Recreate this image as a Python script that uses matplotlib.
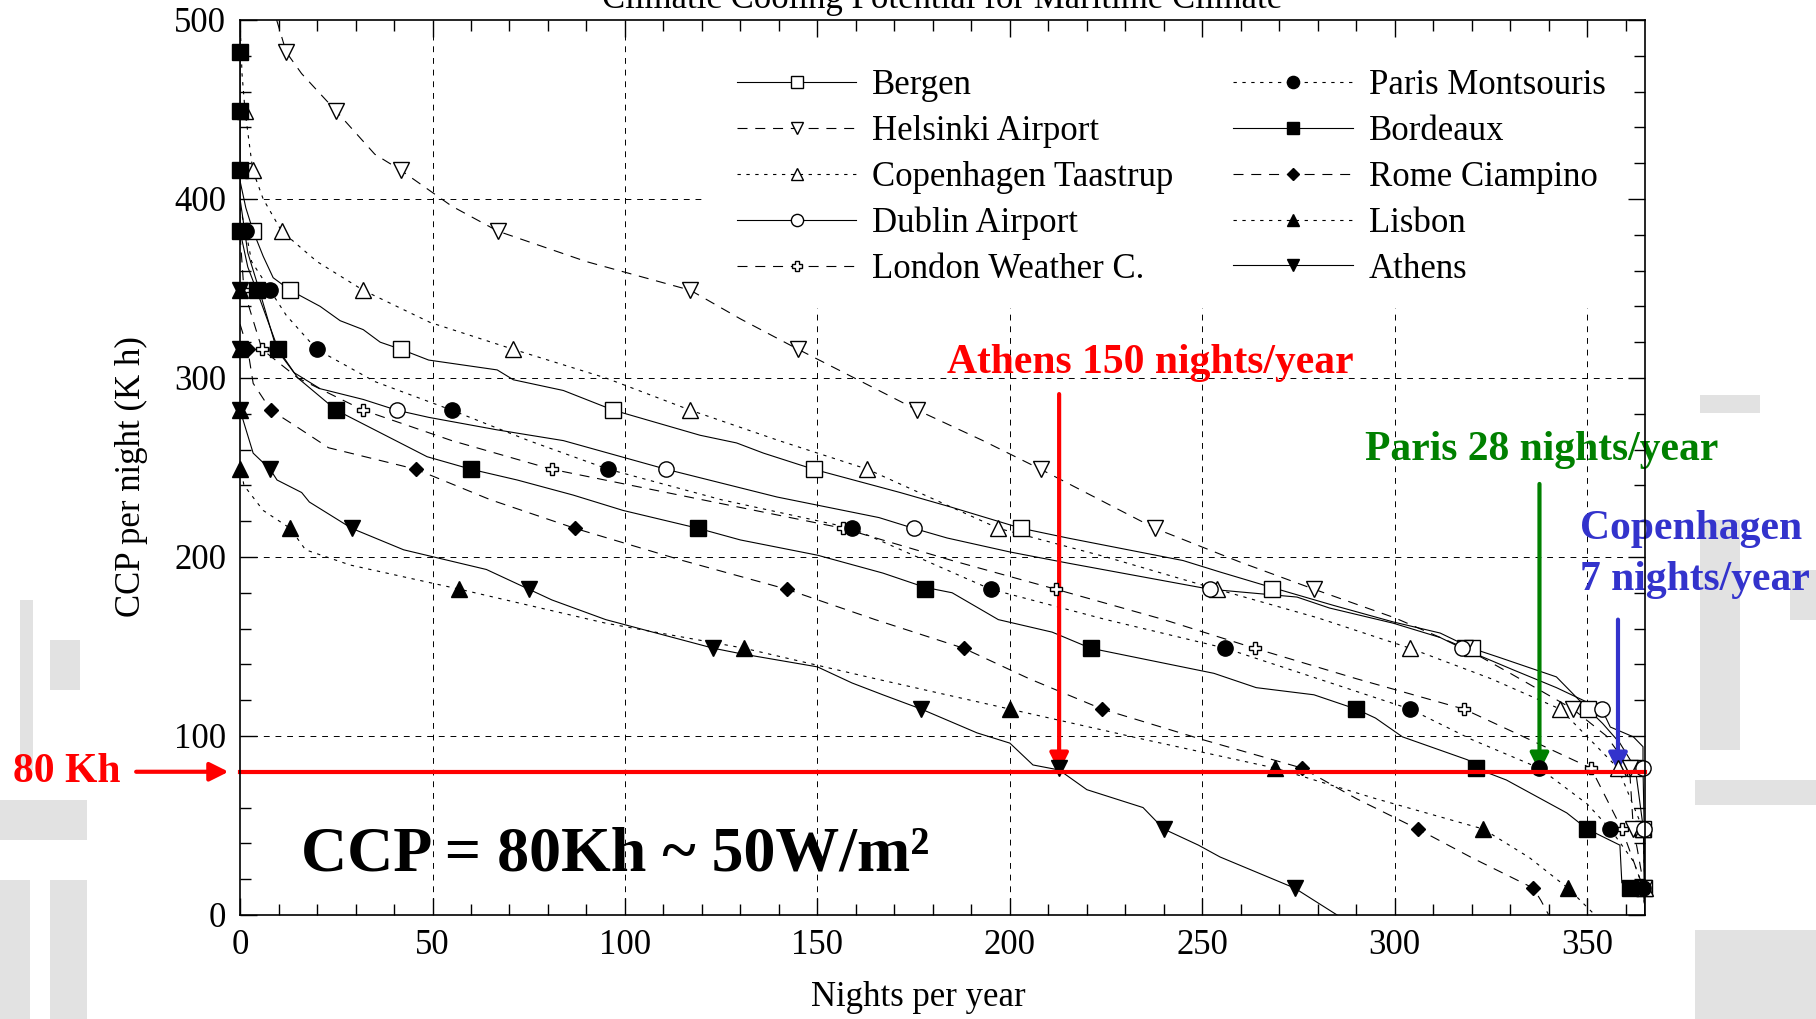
import matplotlib
matplotlib.use("Agg")
import matplotlib.pyplot as plt
from matplotlib.ticker import MultipleLocator
from matplotlib.patches import Rectangle

plt.rcParams['font.family'] = ['Liberation Serif', 'DejaVu Serif']

# marker levels (CCP, K h) where the plotting program put a symbol on each curve
levels = [482, 449, 416, 382, 349, 316, 282, 249, 216, 182, 149, 115, 82, 48, 15]

bergen_nights = [0, 1.5, 3.4, 6, 8.6, 13, 20.8, 26, 32, 36.4, 41.8, 49, 66.8, 71, 84, 97, 119.5, 129, 136,
                 149, 171.5, 184.5, 203, 215, 245, 254.6, 268, 284, 299.6, 311.8, 320, 327, 342, 350.2,
                 354, 358.5, 362.5, 364.6, 364.8, 365]
bergen_ccp = [410, 395, 382, 368, 356, 349, 340, 332, 327, 320, 316, 310, 304.5, 299, 293, 282, 268, 263.7, 258,
              249, 236, 228, 216, 210.6, 198, 191.6, 183, 173, 163.7, 157.5, 149, 144, 133, 115,
              107, 96, 82, 48, 15, 0]
bergen_marks = [None, None, None, 3.4, 13, 41.8, 97, 149, 203, 268, 320, 350.2, 362.5, 364.6, 364.8]

helsinki_nights = [9.5, 12, 16, 25, 35, 41.8, 55, 67, 90, 117, 130, 145, 176, 193, 208, 237.7, 260, 279,
                   300, 318.3, 330, 346.3, 355, 361, 362, 363, 364.8, 365]
helsinki_ccp = [500, 482, 470, 449, 425, 416, 396, 382, 365, 349, 333, 316, 282, 265, 249, 216, 197, 182,
                166, 149, 135, 115, 100, 82, 48, 37, 15, 0]
helsinki_marks = [12, 25, 41.8, 67, 117, 145, 176, 208, 237.7, 279, 318.3, 346.3, 361, 362, 364.8]

copenhagen_nights = [0, 0.5, 1.3, 3.3, 6, 10.8, 20, 32, 49.4, 71, 95, 117, 140, 163, 197, 225, 253.7, 280,
                     304, 325, 343, 358, 364.5, 365, 365]
copenhagen_ccp = [500, 470, 449, 416, 400, 382, 365, 349, 331, 316, 300, 282, 265, 249, 216, 200, 182, 166,
                  149, 132, 115, 82, 48, 15, 0]
copenhagen_marks = [None, 1.3, 3.3, 10.8, 32, 71, 117, 163, 197, 253.7, 304, 343, 358, 364.5, 365]

dublin_nights = [0, 2, 5, 9.5, 14, 20.8, 32, 40.7, 49, 66.8, 84, 110.7, 139.5, 166, 175, 183.7, 200, 215,
                 251.9, 274.6, 283, 299.6, 311.8, 317.5, 330.7, 342, 353.8, 356, 362, 364.5, 364.5, 364.8, 365]
dublin_ccp = [400, 370, 349, 316, 303, 294, 288, 282, 278, 271, 265, 249, 233.5, 222, 216, 210.6, 202.8, 196.6,
              182, 177.6, 171.5, 163, 155, 149, 137, 127, 115, 105, 99.5, 94, 82, 48, 0]
dublin_marks = [None, None, None, None, 5, 9.5, 40.7, 110.7, 175, 251.9, 317.5, 353.8, 364.5, 364.8, None]

london_nights = [0, 1, 5.7, 15, 32, 55, 81, 120, 156.7, 185, 211.9, 240, 263.6, 290, 318, 335, 351, 359,
                 364.6, 365]
london_ccp = [380, 349, 316, 300, 282, 265, 249, 232, 216, 198, 182, 165, 149, 132, 115, 98, 82, 48, 15, 0]
london_marks = [None, None, None, None, 1, 5.7, 32, 81, 156.7, 211.9, 263.6, 318, 351, 359, 364.6]

paris_nights = [0, 1.5, 3, 7.8, 12, 19.9, 35, 55, 75, 95.7, 125, 159, 195, 225, 256, 280, 304, 320, 337.6,
                350, 356, 362, 364.6, 365]
paris_ccp = [395, 382, 365, 349, 335, 316, 298, 282, 265, 249, 232, 216, 182, 165, 149, 132, 115, 98, 82,
             62, 48, 30, 15, 0]
paris_marks = [None, None, None, 1.5, 7.8, 19.9, 55, 95.7, 159, 195, 256, 304, 337.6, 356, 364.6]

bordeaux_nights = [0, 0, 2, 4.3, 9.9, 15, 25, 48.6, 60, 72, 86.5, 99.5, 119, 130, 150, 167, 178, 185, 197,
                   211, 221, 253, 264, 279, 290, 295, 302, 319, 321, 329, 344.7, 350, 358.5, 359, 361, 365,
                   365]
bordeaux_ccp = [500, 382, 362, 349, 316, 300, 282, 256, 249, 243, 234.6, 226, 216, 209.5, 201, 191, 183, 180,
                165, 158, 149, 135, 127, 123, 115, 110, 99.5, 86.6, 82, 75.4, 57, 48, 39, 18, 15, 10, 0]
bordeaux_marks = [0, 0, 0, 0, 4.3, 9.9, 25, 60, 119, 178, 221, 290, 321, 350, 361]

rome_nights = [0, 2, 3.4, 8, 14.8, 23, 45.7, 65, 87, 115, 142, 165, 188, 205, 224, 250, 276, 290, 306, 320,
               336, 338, 340]
rome_ccp = [330, 316, 297, 282, 272.6, 261, 249, 232, 216, 198, 182, 165, 149, 132, 115, 98, 82, 65, 48, 32,
            15, 8, 0]
rome_marks = [None, None, None, None, None, 2, 8, 45.7, 87, 142, 188, 224, 276, 306, 336]

lisbon_nights = [0, 1, 6, 13, 17, 28.6, 57, 95, 131, 165, 200, 235, 269, 295, 323, 335, 345, 352]
lisbon_ccp = [252, 240, 226, 216, 204, 195.5, 182, 163, 149, 132, 115, 98, 82, 65, 48, 32, 15, 0]
lisbon_marks = [None, None, None, None, 0, 0, 0, 0, 13, 57, 131, 200, 269, 323, 345]

athens_nights = [0, 3.4, 7.8, 9.6, 16, 18, 29, 42.5, 64, 75, 81, 95, 123, 130, 150, 159, 167, 177, 191.5,
                 200, 206, 212.8, 220, 234.6, 240, 249, 254.6, 274, 285]
athens_ccp = [282, 258, 249, 243, 236, 230.7, 216, 204, 193, 182, 176, 165, 149, 146, 138.6, 129.6, 123, 115,
              101.7, 96, 83.8, 81, 70, 60, 48, 39, 32.4, 15, 0]
athens_marks = [None, None, None, None, 0, 0, 0, 7.8, 29, 75, 123, 177, 212.8, 240, 274]

dashed = (0, (9, 7))
dotted = (0, (3, 5))

series = [
    ("Bergen", bergen_nights, bergen_ccp, bergen_marks, '-', 's', 'white', 11),
    ("Helsinki Airport", helsinki_nights, helsinki_ccp, helsinki_marks, dashed, 'v', 'white', 11),
    ("Copenhagen Taastrup", copenhagen_nights, copenhagen_ccp, copenhagen_marks, dotted, '^', 'white', 11),
    ("Dublin Airport", dublin_nights, dublin_ccp, dublin_marks, '-', 'o', 'white', 11),
    ("London Weather C.", london_nights, london_ccp, london_marks, dashed, 'P', 'white', 9),
    ("Paris Montsouris", paris_nights, paris_ccp, paris_marks, dotted, 'o', 'black', 11),
    ("Bordeaux", bordeaux_nights, bordeaux_ccp, bordeaux_marks, '-', 's', 'black', 11),
    ("Rome Ciampino", rome_nights, rome_ccp, rome_marks, dashed, 'D', 'black', 7.5),
    ("Lisbon", lisbon_nights, lisbon_ccp, lisbon_marks, dotted, '^', 'black', 11),
    ("Athens", athens_nights, athens_ccp, athens_marks, '-', 'v', 'black', 11),
]

fig = plt.figure(figsize=(18.16, 10.19), dpi=100)

# light grey scan blotches around the chart, on a background layer
bg = fig.add_axes([0, 0, 1, 1], zorder=-1)
bg.set_xlim(0, 1816)
bg.set_ylim(1019, 0)
bg.axis('off')
grey = '#e2e2e2'
for x0, y0, w, h in [(0, 880, 30, 139), (50, 880, 37, 139), (0, 800, 87, 40), (20, 600, 13, 170),
                     (50, 640, 30, 50), (1700, 520, 40, 230), (1790, 570, 26, 50), (1695, 780, 121, 25),
                     (1695, 930, 121, 89), (1700, 395, 60, 18)]:
    bg.add_patch(Rectangle((x0, y0), w, h, color=grey, lw=0))

ax = fig.add_axes([0.1322, 0.1021, 0.7736, 0.8783])

# grid, interrupted where the legend sits
grid_style = dict(color='black', lw=0.7, ls=(0, (6, 6)), zorder=1)
for gx in [50, 100]:
    ax.plot([gx, gx], [0, 500], **grid_style)
for gx in [150, 200, 250, 300, 350]:
    ax.plot([gx, gx], [0, 339], **grid_style)
for gy in [100, 200, 300]:
    ax.plot([0, 365], [gy, gy], **grid_style)
ax.plot([0, 120], [400, 400], **grid_style)

handles = []
for name, nights, ccp, marks, ls, mk, fc, ms in series:
    ax.plot(nights, ccp, color='black', lw=0.8, ls=ls, zorder=3)
    mx = [m for m in marks if m is not None]
    my = [lv for m, lv in zip(marks, levels) if m is not None]
    ax.plot(mx, my, ls='none', marker=mk, mfc=fc, mec='black', mew=1.0, ms=ms,
            clip_on=False, zorder=4)
    h, = ax.plot([], [], color='black', lw=0.8, ls=ls, marker=mk, mfc=fc, mec='black',
                 mew=1.0, ms=ms * 0.8, label=name)
    handles.append(h)

ax.legend(handles=handles, ncol=2, loc='upper left', bbox_to_anchor=(0.3535, 0.945),
          frameon=False, fontsize=25, handlelength=3.45, handletextpad=0.45,
          columnspacing=1.73, labelspacing=0.37, borderpad=0, borderaxespad=0, numpoints=1)

# 80 Kh threshold
ax.plot([0, 365], [80, 80], color='red', lw=3, zorder=5, clip_on=False)
arrow = dict(arrowstyle='-|>', lw=3, mutation_scale=28, shrinkA=0, shrinkB=0)
ax.annotate('', xy=(-3, 80), xytext=(-27, 80), annotation_clip=False,
            arrowprops=dict(arrow, color='red'))
ax.text(-31, 74.3, '80 Kh', color='red', fontsize=30, fontweight='bold',
        ha='right', va='baseline')

ax.annotate('', xy=(212.8, 80), xytext=(212.8, 291), arrowprops=dict(arrow, color='red'))
ax.text(236.6, 302.8, 'Athens 150 nights/year', color='red', fontsize=30, fontweight='bold',
        ha='center', va='baseline')

ax.annotate('', xy=(337.6, 80), xytext=(337.6, 240.8), arrowprops=dict(arrow, color='#008000'))
ax.text(338.2, 254.3, 'Paris 28 nights/year', color='#008000', fontsize=30, fontweight='bold',
        ha='center', va='baseline', clip_on=False)

ax.annotate('', xy=(358, 80), xytext=(358, 165), arrowprops=dict(arrow, color='#3333CC'))
ax.text(377, 210.3, 'Copenhagen', color='#3333CC', fontsize=30, fontweight='bold',
        ha='center', va='baseline', clip_on=False)
ax.text(378, 181.8, '7 nights/year', color='#3333CC', fontsize=30, fontweight='bold',
        ha='center', va='baseline', clip_on=False)

ax.text(15.8, 24.6, 'CCP = 80Kh ~ 50W/m²', fontsize=46, fontweight='bold',
        ha='left', va='baseline')

ax.set_xlim(0, 365)
ax.set_ylim(0, 500)
ax.xaxis.set_major_locator(MultipleLocator(50))
ax.xaxis.set_minor_locator(MultipleLocator(10))
ax.yaxis.set_major_locator(MultipleLocator(100))
ax.yaxis.set_minor_locator(MultipleLocator(20))
ax.tick_params(which='both', direction='in', top=True, right=True, width=1, labelsize=25, pad=10)
ax.tick_params(which='major', length=12)
ax.tick_params(which='minor', length=8)
for sp in ax.spines.values():
    sp.set_linewidth(1.2)
    sp.set_zorder(6)

fig.text(918.5 / 1816, 1 - 998 / 1019, 'Nights per year', fontsize=25, ha='center', va='center')
fig.text(131 / 1816, 1 - 477 / 1019, 'CCP per night (K h)', fontsize=25, rotation=90,
         ha='center', va='center')
fig.text(0.519, 0.992, 'Climatic Cooling Potential for Maritime Climate', fontsize=25,
         ha='center', va='baseline')

fig.savefig('out.png', dpi=100)
